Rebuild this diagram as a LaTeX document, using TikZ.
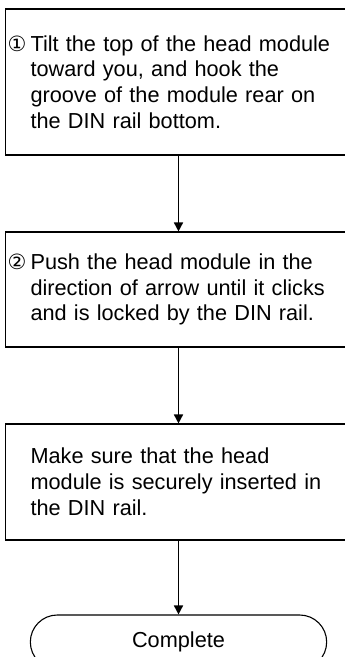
\documentclass[tikz,border=0pt]{standalone}
\usepackage{fontspec}
\setmainfont{Liberation Sans}
\newfontfamily\circfont{DejaVu Sans}
\usetikzlibrary{arrows.meta}
\usetikzlibrary{shapes.misc}
\newcommand{\stepnum}[1]{\llap{\smash{\circfont\fontsize{21}{25.5}\selectfont #1}\hspace{4pt}}}

\begin{document}
\begin{tikzpicture}[x=1pt, y=1pt,
    every node/.style={font=\fontsize{21.7}{25.8}\selectfont},
    stepbox/.style={draw, line width=1.1pt, anchor=west, text width=320pt, inner xsep=25pt, align=left},
    endbox/.style={draw, line width=1.1pt, rounded rectangle, minimum width=303pt, minimum height=54pt},
    flow/.style={line width=1.6pt, -{Triangle[width=9pt, length=9pt]}}]
    \useasboundingbox (0,0) rectangle (345,-657);
    \clip (0,0) rectangle (345,-657);

    \node[stepbox, minimum height=146pt] (tilt) at (5,-82) {\stepnum{①}Tilt the top of the head module\\toward you, and hook the\\groove of the module rear on\\the DIN rail bottom.};
    \node[stepbox, minimum height=115pt] (push) at (5,-289.5) {\stepnum{②}Push the head module in the\\direction of arrow until it clicks\\and is locked by the DIN rail.};
    \node[stepbox, minimum height=116pt] (check) at (5,-482) {Make sure that the head\\module is securely inserted in\\the DIN rail.};
    \node[endbox] (done) at (178.5,-642) {Complete};

    \draw[flow] (tilt.south -| done.north) -- (push.north -| done.north);
    \draw[flow] (push.south -| done.north) -- (check.north -| done.north);
    \draw[flow] (check.south -| done.north) -- (done.north);
\end{tikzpicture}
\end{document}
